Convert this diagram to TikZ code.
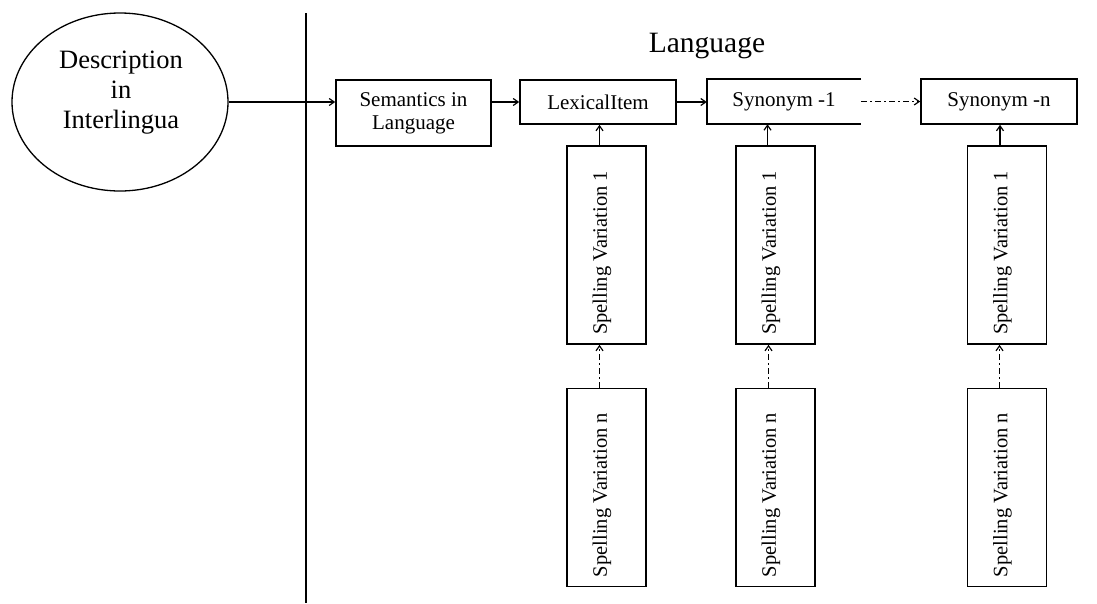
\documentclass[tikz,border=0pt]{standalone}
\usepackage{fontspec}
\setmainfont{Liberation Serif}
\usetikzlibrary{shapes.geometric,arrows.meta}
\tikzset{
  every picture/.style={x=1pt,y=-1pt},
  box/.style={draw,line width=1.6pt,rectangle,inner sep=0pt,align=center,
    font=\fontsize{21}{23}\selectfont},
  openbox/.style={rectangle,inner sep=0pt,align=center,font=\fontsize{21}{23}\selectfont},
  svbox/.style={draw,line width=1.6pt,rectangle,inner sep=0pt,minimum width=79pt,minimum height=198pt},
  svtext/.style={rotate=90,inner sep=0pt,font=\fontsize{20.5}{23}\selectfont},
  conn/.style={line width=1.2pt,-{Straight Barb[length=5pt,width=7pt]}},
  dconn/.style={conn,dash pattern=on 6pt off 3pt on 2pt off 3pt},
}
\begin{document}
\begin{tikzpicture}
\useasboundingbox (0,0) rectangle (1097,603);
\fill[white] (0,0) rectangle (1097,603);

% separator
\draw[line width=1.6pt] (306,13) -- (306,603);

% ellipse
\node[ellipse,draw,line width=1.3pt,minimum width=216pt,minimum height=178pt,inner sep=0pt] (desc) at (120,102) {};
\node[align=center,inner sep=0pt,font=\fontsize{26.5}{30}\selectfont] (desctext) at (121,93) {Description\\in\\Interlingua};

% heading
\node[anchor=base,inner sep=0pt,font=\fontsize{29.5}{32}\selectfont] (lang) at (707,52) {Language};

% top row
\node[box,minimum width=155pt,minimum height=66pt] (sem) at (413.5,113) {Semantics in\\Language};
\node[box,minimum width=156pt,minimum height=44pt] (lex) at (598,102) {LexicalItem};
\node[openbox,minimum width=154pt,minimum height=45pt] (syn1) at (784,101.5) {Synonym -1};
\draw[line width=1.6pt] (syn1.north east) -- (syn1.north west) -- (syn1.south west) -- (syn1.south east);
\node[box,minimum width=156pt,minimum height=45pt] (synn) at (999,101.5) {Synonym -n};

% spelling boxes
\node[svbox] (sv1a) at (606.5,245) {};
\node[svtext] (sv1at) at (602,253) {Spelling Variation 1};
\node[svbox] (svna) at (606.5,487.5) {};
\node[svtext] (svnat) at (602,495) {Spelling Variation n};
\node[svbox] (sv1b) at (775.5,245) {};
\node[svtext] (sv1bt) at (771,253) {Spelling Variation 1};
\node[svbox] (svnb) at (775.5,487.5) {};
\node[svtext] (svnbt) at (771,495) {Spelling Variation n};
\node[svbox] (sv1c) at (1007,245) {};
\node[svtext] (sv1ct) at (1002.5,253) {Spelling Variation 1};
\node[svbox] (svnc) at (1007,487.5) {};
\node[svtext] (svnct) at (1002.5,495) {Spelling Variation n};

% connectors
\draw[conn] (desc.east) -- (desc.east -| sem.west);
\draw[conn] (sem.east |- lex) -- (lex.west);
\draw[conn] (lex.east) -- (syn1.west |- lex);
\draw[dconn] (syn1.east) -- (synn.west);

\draw[conn] ([xshift=-7pt]sv1a.north) -- ([xshift=-7pt]sv1a.north |- lex.south);
\draw[conn] ([xshift=-8pt]sv1b.north) -- ([xshift=-8pt]sv1b.north |- syn1.south);
\draw[conn] ([xshift=-7pt]sv1c.north) -- ([xshift=-7pt]sv1c.north |- synn.south);

\draw[dconn] ([xshift=-7pt]svna.north) -- ([xshift=-7pt]svna.north |- sv1a.south);
\draw[dconn] ([xshift=-7pt]svnb.north) -- ([xshift=-7pt]svnb.north |- sv1b.south);
\draw[dconn] ([xshift=-7.5pt]svnc.north) -- ([xshift=-7.5pt]svnc.north |- sv1c.south);
\end{tikzpicture}
\end{document}
